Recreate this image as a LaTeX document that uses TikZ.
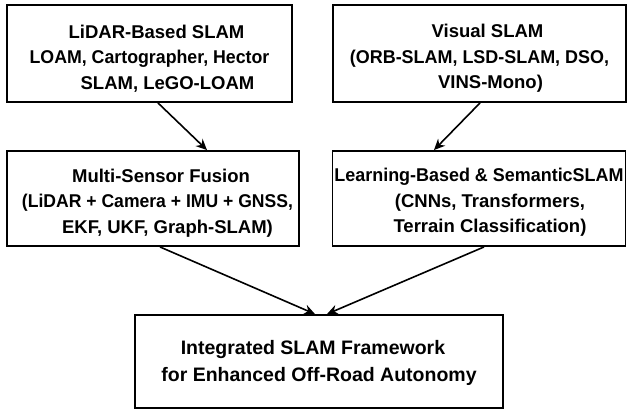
\documentclass[tikz,border=0pt]{standalone}
\usepackage{fontspec}
\setmainfont{Liberation Sans}
\usetikzlibrary{arrows.meta}
\newcommand{\rsh}[1]{\hspace*{#1}}
\newcommand{\nrw}[2]{\scalebox{#1}[1]{#2}}
\begin{document}
\begin{tikzpicture}[x=1pt,y=-1pt,
  box/.style={draw, line width=1.9pt, inner sep=0pt},
  txt/.style={inner sep=0pt, align=center,
    font=\fontsize{18.5}{25.5}\selectfont\bfseries},
  arr/.style={line width=1.6pt, -{Stealth[length=11pt,width=10pt]}}]
\useasboundingbox[fill=white] (0,0) rectangle (627,410);
\node[box, minimum width=285pt, minimum height=97pt] (b1) at (149.5,53.5) {};
\node[box, minimum width=293pt, minimum height=97pt] (b2) at (479.5,53.5) {};
\node[box, minimum width=292pt, minimum height=95pt] (b3) at (153,198.5) {};
\node[box, minimum width=293pt, minimum height=95pt] (b4) at (479,198.5) {};
\node[box, minimum width=368pt, minimum height=93pt] (b5) at (319,361.5) {};
\node[txt] (t1) at ([yshift=-5pt]b1.center)
  {\rsh{14pt}LiDAR-Based SLAM\\\nrw{0.96}{LOAM, Cartographer, Hector}\rsh{6pt}\\\rsh{36pt}SLAM, LeGO-LOAM};
\node[txt] (t2) at ([yshift=-5pt]b2.center)
  {\rsh{16pt}Visual SLAM\\\nrw{0.97}{(ORB-SLAM, LSD-SLAM, DSO,}\rsh{0pt}\\\rsh{22pt}VINS-Mono)};
\node[txt] (t3) at ([xshift=4.5pt,yshift=-4.5pt]b3.center)
  {\rsh{7pt}Multi-Sensor Fusion\\\nrw{0.95}{(LiDAR + Camera + IMU + GNSS,}\\\rsh{20pt}EKF, UKF, Graph-SLAM)};
\node[txt] (t4) at ([yshift=-4pt]b4.center)
  {\nrw{0.97}{Learning-Based \& SemanticSLAM}\\\rsh{22pt}(CNNs, Transformers,\\\rsh{22pt}Terrain Classification)};
\node[txt, font=\fontsize{19.5}{27}\selectfont\bfseries] (t5) at ([yshift=-1pt]b5.center)
  {Integrated SLAM Framework\rsh{12pt}\\for Enhanced Off-Road Autonomy};
\draw[arr] ([xshift=8.5pt]b1.south) -- ([xshift=54pt]b3.north);
\draw[arr] ([xshift=0.5pt]b2.south) -- ([xshift=-45pt]b4.north);
\draw[arr] ([xshift=7pt]b3.south) -- ([xshift=-4pt]b5.north);
\draw[arr] ([xshift=5pt]b4.south) -- ([xshift=8pt]b5.north);
\end{tikzpicture}
\end{document}
